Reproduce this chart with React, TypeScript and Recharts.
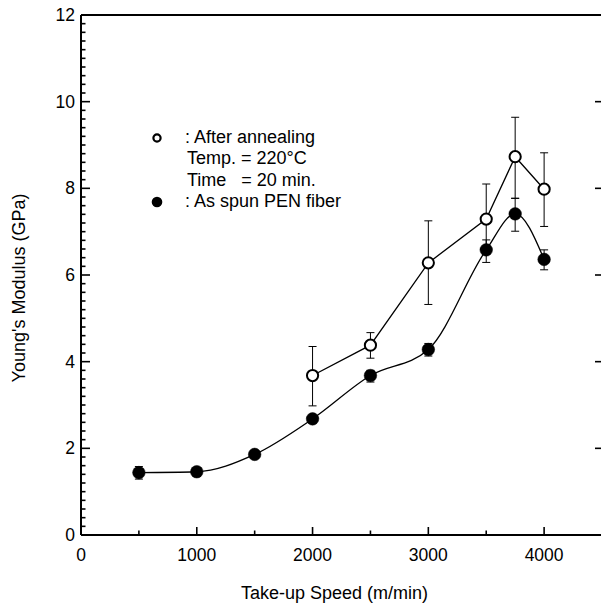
import React from "react";
import { ComposedChart, Line, XAxis, YAxis, ErrorBar, Legend } from "recharts";

// As-spun PEN fiber (filled circles)
const spunSpeed = [500, 1000, 1500, 2000, 2500, 3000, 3500, 3750, 4000];
const spunModulus = [1.44, 1.46, 1.86, 2.68, 3.68, 4.28, 6.58, 7.41, 6.36];
const spunErrLow = [0.15, 0, 0, 0, 0.15, 0.15, 0.29, 0.4, 0.24];
const spunErrHigh = [0.14, 0, 0, 0, 0.12, 0.14, 0.23, 0.36, 0.22];

// After annealing (open circles)
const annealSpeed = [2000, 2500, 3000, 3500, 3750, 4000];
const annealModulus = [3.68, 4.38, 6.28, 7.29, 8.73, 7.98];
const annealErrLow = [0.7, 0.3, 0.96, 0.79, 0.96, 0.86];
const annealErrHigh = [0.67, 0.29, 0.97, 0.81, 0.91, 0.84];

const xTicks = [0, 500, 1000, 1500, 2000, 2500, 3000, 3500, 4000, 4500];
const xTopTicks = [1000, 2000, 3000, 4000];
const yMajorTicks = [0, 2, 4, 6, 8, 10, 12];
const yRightTicks = [2, 4, 6, 8, 10];
const yMinorStep = 0.2;

const legendLines = [
  { marker: "open", text: ": After annealing" },
  { marker: "none", text: "Temp. = 220\u00B0C" },
  { marker: "none", text: "Time   = 20 min." },
  { marker: "filled", text: ": As spun PEN fiber" },
];

const FONT = "'Liberation Sans', Arial, Helvetica, sans-serif";

const spunData = spunSpeed.map((s, i) => ({
  speed: s,
  modulus: spunModulus[i],
  err: [spunErrLow[i], spunErrHigh[i]],
}));
const annealData = annealSpeed.map((s, i) => ({
  speed: s,
  modulus: annealModulus[i],
  err: [annealErrLow[i], annealErrHigh[i]],
}));

const yLeftTicks: number[] = [];
for (let i = 0; i <= Math.round(12 / yMinorStep); i++) yLeftTicks.push(Math.round(i * yMinorStep * 10) / 10);

const isMajorY = (v: number) => yMajorTicks.some((m) => Math.abs(m - v) < 1e-6);

const LeftTick = (props: any) => {
  const { x, y, payload } = props;
  const major = isMajorY(payload.value);
  return (
    <g>
      <line x1={x} x2={x + (major ? 9 : 4.5)} y1={y} y2={y} stroke="#000" strokeWidth={1.6} />
      {major && (
        <text x={x - 6} y={y} textAnchor="end" dominantBaseline="central" fontFamily={FONT} fontSize={17.5} fill="#000">
          {payload.value}
        </text>
      )}
    </g>
  );
};

const BottomTick = (props: any) => {
  const { x, y, payload } = props;
  const v = payload.value;
  const major = v % 1000 === 0;
  if (v === 4500) return <g />;
  return (
    <g>
      <line x1={x} x2={x} y1={y} y2={y - (major ? 8 : 4.5)} stroke="#000" strokeWidth={1.6} />
      {major && (
        <text x={x} y={y + 20} textAnchor="middle" dominantBaseline="central" fontFamily={FONT} fontSize={17.5} fill="#000">
          {v}
        </text>
      )}
    </g>
  );
};

const TopTick = (props: any) => {
  const { x, y } = props;
  return <line x1={x} x2={x} y1={y} y2={y + 8} stroke="#000" strokeWidth={1.6} />;
};

const RightTick = (props: any) => {
  const { x, y } = props;
  return <line x1={x} x2={x - 7} y1={y} y2={y} stroke="#000" strokeWidth={1.6} />;
};

const LegendContent = () => (
  <div style={{ position: "relative", width: 0, height: 0 }}>
    {legendLines.map((l, i) => (
      <div
        key={i}
        style={{
          position: "absolute",
          left: 150,
          top: 127 + i * 21.4,
          height: 21,
          display: "flex",
          alignItems: "center",
          whiteSpace: "pre",
          fontFamily: FONT,
          fontSize: 18,
          color: "#000",
        }}
      >
        <svg width={14} height={14} style={{ display: "block" }}>
          {l.marker === "open" && <circle cx={7} cy={7} r={3.6} fill="#fff" stroke="#000" strokeWidth={2.2} />}
          {l.marker === "filled" && <circle cx={7} cy={7} r={5.3} fill="#000" />}
        </svg>
        <span style={{ marginLeft: l.marker === "none" ? 23 : 21, lineHeight: "21px" }}>{l.text}</span>
      </div>
    ))}
  </div>
);

export default function App() {
  return (
    <div style={{ position: "absolute", left: 0, top: 0, width: 601, height: 607, overflow: "hidden", background: "#fff" }}>
      <ComposedChart width={603} height={607} margin={{ top: 0, right: 0, bottom: 0, left: 0 }}>
        <XAxis
          xAxisId="bottom"
          dataKey="speed"
          type="number"
          domain={[0, 4500]}
          ticks={xTicks}
          interval={0}
          height={72}
          axisLine={{ stroke: "#000", strokeWidth: 2 }}
          tickLine={false}
          tickSize={0}
          tickMargin={0}
          tick={<BottomTick />}
          allowDataOverflow
          label={{
            value: "Take-up Speed (m/min)",
            content: (p: any) => {
              const vb = p.viewBox;
              return (
                <text x={vb.x + vb.width / 2 - 7} y={vb.y + 64} textAnchor="middle" fontFamily={FONT} fontSize={18} fill="#000">
                  Take-up Speed (m/min)
                </text>
              );
            },
          }}
        />
        <XAxis
          xAxisId="top"
          orientation="top"
          type="number"
          domain={[0, 4500]}
          ticks={xTopTicks}
          interval={0}
          height={15}
          axisLine={{ stroke: "#000", strokeWidth: 2 }}
          tickLine={false}
          tickSize={0}
          tickMargin={0}
          tick={<TopTick />}
          allowDataOverflow
        />
        <YAxis
          yAxisId="left"
          type="number"
          domain={[0, 12]}
          ticks={yLeftTicks}
          interval={0}
          width={81}
          axisLine={{ stroke: "#000", strokeWidth: 2 }}
          tickLine={false}
          tickSize={0}
          tickMargin={0}
          tick={<LeftTick />}
          allowDataOverflow
          label={{
            value: "Young's Modulus (GPa)",
            content: (p: any) => {
              const vb = p.viewBox;
              const cx = vb.x + 19;
              const cy = vb.y + vb.height / 2 + 13;
              return (
                <text
                  x={cx}
                  y={cy}
                  transform={`rotate(-90 ${cx} ${cy})`}
                  textAnchor="middle"
                  dominantBaseline="central"
                  fontFamily={FONT}
                  fontSize={18}
                  fill="#000"
                >
                  Young's Modulus (GPa)
                </text>
              );
            },
          }}
        />
        <YAxis
          yAxisId="right"
          orientation="right"
          type="number"
          domain={[0, 12]}
          ticks={yRightTicks}
          interval={0}
          width={1}
          axisLine={{ stroke: "#000", strokeWidth: 2 }}
          tickLine={false}
          tickSize={0}
          tickMargin={0}
          tick={<RightTick />}
          allowDataOverflow
        />
        <Legend content={<LegendContent />} wrapperStyle={{ left: 0, top: 0, width: 0, height: 0 }} />
        <Line
          data={spunData}
          xAxisId="bottom"
          yAxisId="left"
          dataKey="modulus"
          type="monotoneX"
          stroke="#000"
          strokeWidth={1.3}
          dot={{ r: 6.3, fill: "#000", stroke: "#000", strokeWidth: 0.5 }}
          activeDot={false}
          isAnimationActive={false}
        >
          <ErrorBar dataKey="err" width={4} stroke="#000" strokeWidth={1} direction="y" />
        </Line>
        <Line
          data={annealData}
          xAxisId="bottom"
          yAxisId="left"
          dataKey="modulus"
          type="linear"
          stroke="#000"
          strokeWidth={1.3}
          dot={{ r: 5.6, fill: "#fff", stroke: "#000", strokeWidth: 2 }}
          activeDot={false}
          isAnimationActive={false}
        >
          <ErrorBar dataKey="err" width={4} stroke="#000" strokeWidth={1} direction="y" />
        </Line>
      </ComposedChart>
    </div>
  );
}
